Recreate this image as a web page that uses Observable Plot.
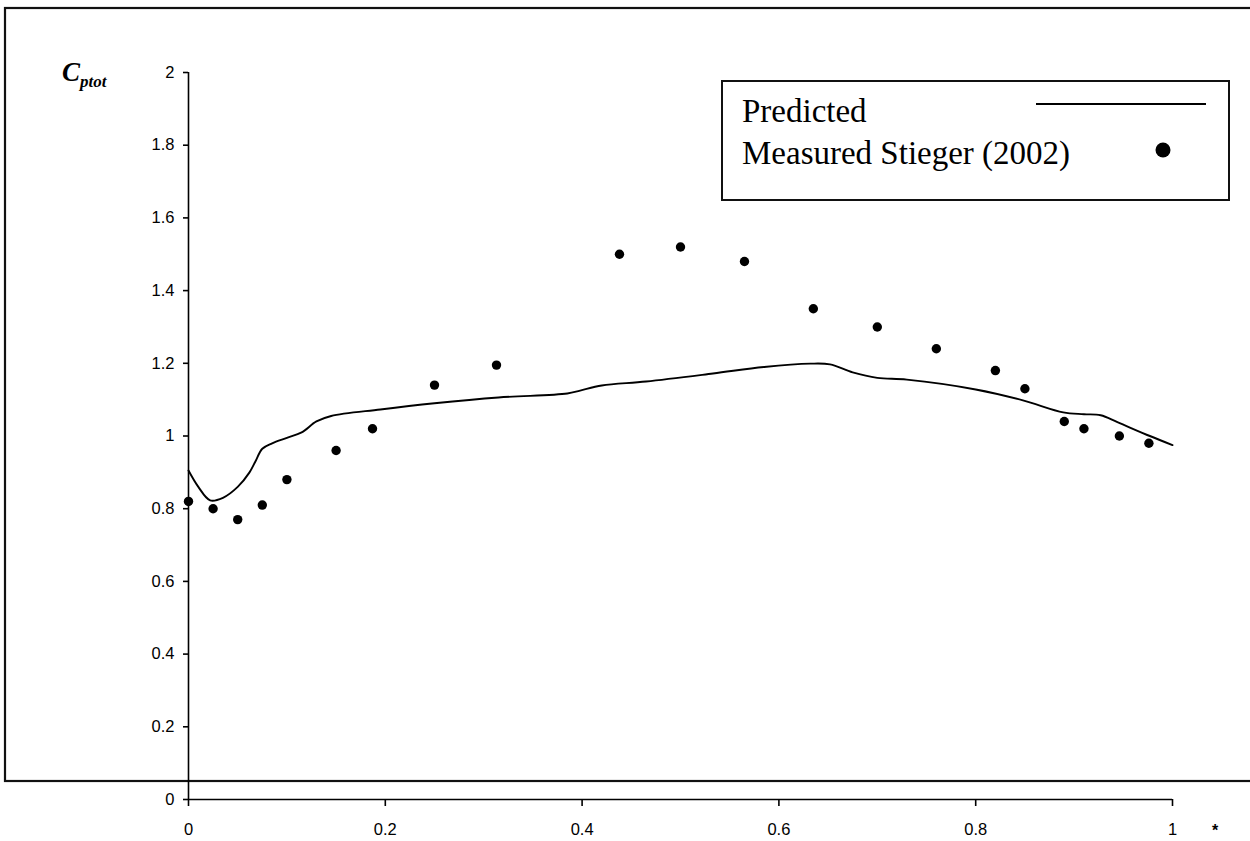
<!DOCTYPE html>
<html><head><meta charset="utf-8">
<script src="https://cdn.jsdelivr.net/npm/d3@7"></script>
<script src="https://cdn.jsdelivr.net/npm/@observablehq/plot@0.6"></script>
<style>
html,body{margin:0;padding:0;background:#fff;}
#chart{width:1250px;height:841px;overflow:hidden;position:relative;}
#chart svg{display:block;}
</style></head><body><div id="chart"></div>
<script>
// Measured (Stieger 2002) points
const measuredX = [0, 0.025, 0.05, 0.075, 0.1, 0.15, 0.187, 0.25, 0.313, 0.438, 0.5, 0.565, 0.635, 0.70, 0.76, 0.82, 0.85, 0.89, 0.91, 0.946, 0.976];
const measuredY = [0.82, 0.80, 0.77, 0.81, 0.88, 0.96, 1.02, 1.14, 1.195, 1.50, 1.52, 1.48, 1.35, 1.30, 1.24, 1.18, 1.13, 1.04, 1.02, 1.00, 0.98];
// Predicted curve
const predictedX = [0, 0.010, 0.022, 0.035, 0.050, 0.062, 0.068, 0.075, 0.085, 0.10, 0.115, 0.130, 0.145, 0.195, 0.250, 0.315, 0.385, 0.398, 0.42, 0.465, 0.533, 0.585, 0.632, 0.652, 0.675, 0.70, 0.73, 0.80, 0.848, 0.889, 0.91, 0.927, 0.944, 0.977, 1.0];
const predictedY = [0.905, 0.86, 0.823, 0.83, 0.86, 0.90, 0.93, 0.965, 0.98, 0.995, 1.01, 1.04, 1.055, 1.073, 1.09, 1.106, 1.117, 1.125, 1.139, 1.15, 1.172, 1.19, 1.199, 1.197, 1.175, 1.16, 1.155, 1.128, 1.098, 1.065, 1.06, 1.057, 1.038, 1.00, 0.975];
const xTicks = [0, 0.2, 0.4, 0.6, 0.8, 1];
const yTicks = [0, 0.2, 0.4, 0.6, 0.8, 1, 1.2, 1.4, 1.6, 1.8, 2];
const legendLabels = ["Predicted", "Measured Stieger (2002)"];
const yTitle = ["C", "ptot"];

const measured = measuredX.map((x, i) => ({x, y: measuredY[i]}));
const predicted = predictedX.map((x, i) => ({x, y: predictedY[i]}));
const fmt = d => String(+d.toFixed(1));

const plot = Plot.plot({
  width: 1250, height: 841,
  marginLeft: 188, marginRight: 78, marginTop: 72, marginBottom: 42,
  style: {fontFamily: "'Liberation Sans', Arial, sans-serif", fontSize: "16.5px", color: "#000", background: "#fff"},
  x: {domain: [0, 1]},
  y: {domain: [0, 2]},
  marks: [
    Plot.ruleX([0], {stroke: "#000", strokeWidth: 1.6}),
    Plot.ruleY([0], {stroke: "#000", strokeWidth: 1.6}),
    Plot.axisY({ticks: yTicks, tickSize: 5, tickPadding: 9, label: null, tickFormat: fmt, stroke: "#000", strokeWidth: 1.6, fontSize: 16.5}),
    Plot.axisX({ticks: xTicks, tickSize: 7, tickPadding: 17, label: null, tickFormat: fmt, stroke: "#000", strokeWidth: 1.6, fontSize: 16.5}),
    Plot.line(predicted, {x: "x", y: "y", stroke: "#000", strokeWidth: 1.9, curve: "catmull-rom"}),
    Plot.dot(measured, {x: "x", y: "y", r: 4.7, fill: "#000", stroke: "none"})
  ]
});
document.getElementById("chart").appendChild(plot);

const svg = d3.select(plot);
svg.selectAll('g[aria-label="y-axis tick label"], g[aria-label="x-axis tick label"]')
  .attr("font-size", 16.5).style("font-size", "16.5px");

// outer frame (right edge lies outside the picture)
svg.insert("rect", ":first-child")
  .attr("x", 5).attr("y", 8).attr("width", 1270).attr("height", 773)
  .attr("fill", "none").attr("stroke", "#111").attr("stroke-width", 2.2);

const serif = "'Liberation Serif', 'Times New Roman', serif";
// y title C_ptot
const t = svg.append("text")
  .attr("x", 62).attr("y", 81).attr("text-anchor", "start")
  .attr("font-family", serif)
  .attr("font-weight", "bold").attr("font-style", "italic").attr("fill", "#000");
t.append("tspan").attr("font-size", 27).text(yTitle[0]);
t.append("tspan").attr("font-size", 17).attr("dy", 6).text(yTitle[1]);

// legend
const lg = svg.append("g").attr("text-anchor", "start");
lg.append("rect").attr("x", 722).attr("y", 81).attr("width", 507).attr("height", 119)
  .attr("fill", "#fff").attr("stroke", "#111").attr("stroke-width", 2);
lg.append("text").attr("x", 742).attr("y", 122).attr("text-anchor", "start")
  .attr("font-family", serif).attr("font-size", 33).attr("fill", "#000")
  .text(legendLabels[0]);
lg.append("text").attr("x", 742).attr("y", 164).attr("text-anchor", "start")
  .attr("font-family", serif).attr("font-size", 33).attr("fill", "#000")
  .text(legendLabels[1]);
lg.append("line").attr("x1", 1036).attr("x2", 1206).attr("y1", 104).attr("y2", 104)
  .attr("stroke", "#000").attr("stroke-width", 2);
lg.append("circle").attr("cx", 1163).attr("cy", 150).attr("r", 7.5).attr("fill", "#000");

// small glyph at bottom right
svg.append("text").attr("x", 1215).attr("y", 836).attr("text-anchor", "middle")
  .attr("font-family", "'Liberation Sans', Arial, sans-serif").attr("font-weight", "bold").attr("font-size", 16)
  .attr("fill", "#000").text("*");
</script>
</body></html>
